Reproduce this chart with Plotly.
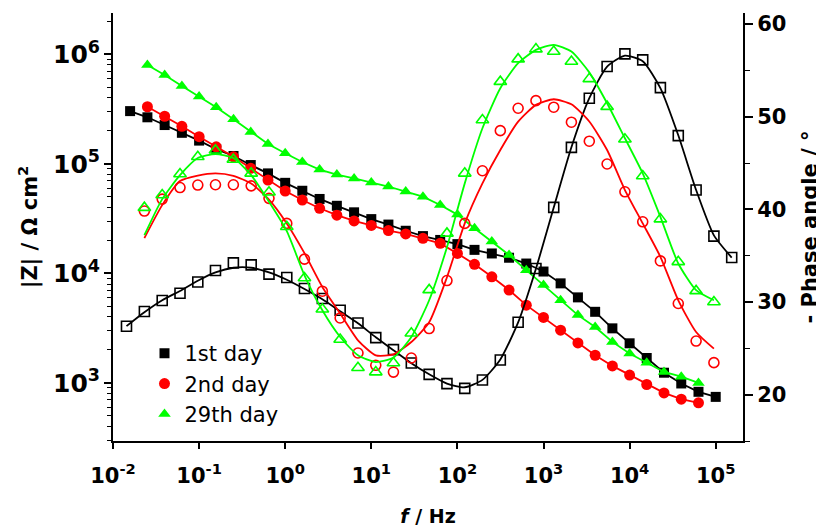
import plotly.graph_objects as go

# ---------------- data ----------------
freq_hz = [0.0158, 0.0251, 0.0398, 0.0631, 0.1, 0.158, 0.251, 0.398, 0.631, 1.0,
           1.58, 2.51, 3.98, 6.31, 10.0, 15.8, 25.1, 39.8, 63.1, 100.0,
           158, 251, 398, 631, 1000, 1580, 2510, 3980, 6310, 10000,
           15800, 25100, 39800, 63100, 100000]
freq_day1 = freq_hz
freq_day2 = freq_hz[1:34]
freq_day29 = freq_hz[1:34]

z_day1 = [303000, 266000, 226000, 192000, 163000, 136000, 118000, 97500, 81800, 67100,
          56800, 47800, 41400, 36100, 31300, 27900, 24500, 21900, 20200, 18500,
          16400, 15200, 13900, 12300, 10400, 8110, 6040, 4460, 3150, 2300,
          1690, 1240, 989, 830, 746]
z_day2 = [332000, 272000, 220000, 177000, 143000, 116000, 91000, 71100, 56500, 46700,
          39300, 34000, 30100, 27400, 24600, 22900, 20900, 18800, 15200, 12100,
          9310, 7050, 5130, 3960, 3030, 2320, 1790, 1430, 1180, 968,
          811, 711, 658]
z_day29 = [798000, 647000, 513000, 412000, 328000, 255000, 195000, 152000, 125000, 104000,
           88700, 79800, 73500, 67500, 62100, 55800, 50200, 42100, 34400, 25800,
           19500, 14700, 10700, 7820, 5700, 4160, 3240, 2370, 1860, 1530,
           1260, 1140, 1000]

phase_day1 = [27.38, 28.98, 30.16, 30.95, 32.16, 33.41, 34.23, 34.01, 33.01, 32.65,
              31.46, 30.38, 29.11, 27.74, 26.16, 24.86, 23.42, 22.19, 21.19, 20.68,
              21.59, 23.75, 27.82, 33.62, 40.22, 46.70, 52.0, 55.42, 56.79, 56.14,
              53.15, 47.96, 42.09, 37.11, 34.81]
phase_fit_day1 = [27.4, 28.9, 30.2, 31.2, 32.3, 33.2, 33.7, 33.7, 33.2, 32.4,
                  31.4, 30.3, 29.0, 27.7, 26.2, 24.8, 23.4, 22.2, 21.2, 20.8,
                  21.6, 23.8, 27.8, 33.6, 40.2, 46.7, 52.0, 55.4, 56.6, 56.0,
                  53.1, 48.0, 42.1, 37.2, 34.8]
phase_day2 = [39.82, 41.11, 42.36, 42.63, 42.66, 42.66, 42.54, 41.19, 38.49, 34.63,
              31.17, 28.28, 24.50, 23.17, 22.44, 23.96, 27.14, 32.32, 38.49, 44.17,
              48.50, 50.92, 51.74, 51.03, 49.41, 47.36, 44.90, 41.90, 38.66, 34.44,
              29.84, 25.79, 23.46]
phase_fit_day2 = [36.90, 40.46, 43.06, 43.65, 43.89, 43.63, 42.79, 41.06, 38.49, 35.28,
                  31.63, 28.76, 25.87, 24.25, 24.36, 25.69, 27.82, 32.68, 38.49, 42.81,
                  46.41, 49.47, 51.28, 51.89, 51.35, 49.49, 46.41, 42.09, 38.49, 34.88,
                  30.19, 26.77, 24.97]
phase_day29 = [40.19, 41.55, 43.82, 45.69, 46.38, 45.38, 43.89, 41.85, 38.12, 32.59,
               29.22, 25.95, 22.90, 22.44, 23.42, 26.63, 31.31, 37.41, 43.89, 49.65,
               53.79, 56.22, 57.30, 57.04, 55.96, 54.09, 51.09, 47.57, 43.60, 38.95,
               34.34, 31.20, 30.01]
phase_fit_day29 = [37.22, 41.11, 43.70, 45.54, 45.97, 45.54, 43.70, 40.82, 37.65, 32.89,
                   29.11, 26.23, 24.25, 23.52, 24.0, 26.23, 30.19, 35.92, 42.81, 48.76,
                   53.08, 55.78, 57.22, 57.76, 57.04, 54.79, 51.46, 47.68, 43.89, 39.20,
                   34.16, 31.28, 30.19]

series_names = ["1st day", "2nd day", "29th day"]
series_colors = ["#000000", "#ff0000", "#00ff00"]

x_tickvals = [0.01, 0.1, 1, 10, 100, 1000, 10000, 100000]
x_ticktext = ["10<sup>-2</sup>", "10<sup>-1</sup>", "10<sup>0</sup>", "10<sup>1</sup>",
              "10<sup>2</sup>", "10<sup>3</sup>", "10<sup>4</sup>", "10<sup>5</sup>"]
y2_tickvals = [20, 30, 40, 50, 60]

# ---------------- figure ----------------
FONT = "DejaVu Sans"
fig = go.Figure()

freqs = [freq_day1, freq_day2, freq_day29]
zs = [z_day1, z_day2, z_day29]
phases = [phase_day1, phase_day2, phase_day29]
fits = [phase_fit_day1, phase_fit_day2, phase_fit_day29]
filled = ["square", "circle", "triangle-up"]
opened = ["square-open", "circle-open", "triangle-up-open"]
fsize = [10, 11, 11]
osize = [10, 10, 11]

# phase fit lines and open markers (secondary axes)
for f, p, pf, c, sym, s in zip(freqs, phases, fits, series_colors, opened, osize):
    fig.add_trace(go.Scatter(x=f, y=pf, mode="lines", xaxis="x2", yaxis="y2",
                             line=dict(color=c, width=1.8, shape="spline", smoothing=0.6),
                             showlegend=False, hoverinfo="skip"))
    fig.add_trace(go.Scatter(x=f, y=p, mode="markers", xaxis="x2", yaxis="y2",
                             marker=dict(symbol=sym, size=s, color=c, line=dict(width=1.6, color=c)),
                             showlegend=False))

# |Z| lines and filled markers
for f, z, c, sym, s, name in zip(freqs, zs, series_colors, filled, fsize, series_names):
    fig.add_trace(go.Scatter(x=f, y=z, mode="lines", line=dict(color=c, width=1.8),
                             showlegend=False, hoverinfo="skip"))
    fig.add_trace(go.Scatter(x=f, y=z, mode="markers", name=name,
                             marker=dict(symbol=sym, size=s, color=c, line=dict(width=0))))

axis_common = dict(showline=True, linecolor="black", linewidth=2, showgrid=False,
                   zeroline=False, ticks="outside", tickcolor="black", tickwidth=1.8)

# the page adds an 8 px body margin, so the figure is 816x519 inside the 824x527 window
fig.update_layout(
    width=816, height=519,
    margin=dict(l=105, r=81, t=5, b=86),
    paper_bgcolor="white", plot_bgcolor="white",
    font=dict(family=FONT, color="black", size=20),
    xaxis=dict(type="log", range=[-2, 5.317], tickvals=x_tickvals, ticktext=x_ticktext,
               ticklen=6, ticklabelstandoff=9, tickfont=dict(size=21, weight="bold"),
               title=dict(text="<i>f</i> / Hz", font=dict(size=19, weight="bold"), standoff=22),
               automargin=False, **axis_common),
    xaxis2=dict(type="log", range=[-1.953, 5.127], overlaying="x", anchor="y2", visible=False),
    yaxis=dict(type="log", range=[2.47, 6.377], dtick=1, exponentformat="power",
               ticklen=7, tickfont=dict(size=20, weight="bold"),
               minor=dict(dtick="D1", ticks="outside", ticklen=4, tickcolor="black", tickwidth=1.2),
               title=dict(text="|Z| / Ω cm<sup>2</sup>", font=dict(size=21, weight="bold"), standoff=10),
               automargin=False, **axis_common),
    yaxis2=dict(range=[15, 61.2], overlaying="y", side="right", anchor="x",
                tickvals=y2_tickvals, ticklen=8, tickfont=dict(size=21, weight="bold"),
                minor=dict(dtick=5, ticks="outside", ticklen=5, tickcolor="black", tickwidth=1.2),
                title=dict(text="- Phase angle / °", font=dict(size=21, weight="bold"), standoff=17),
                automargin=False, **axis_common),
    legend=dict(x=0.05, y=0.252, xanchor="left", yanchor="top", bgcolor="rgba(0,0,0,0)",
                font=dict(size=21, family=FONT), itemwidth=30),
)

fig.write_html("out.html")
